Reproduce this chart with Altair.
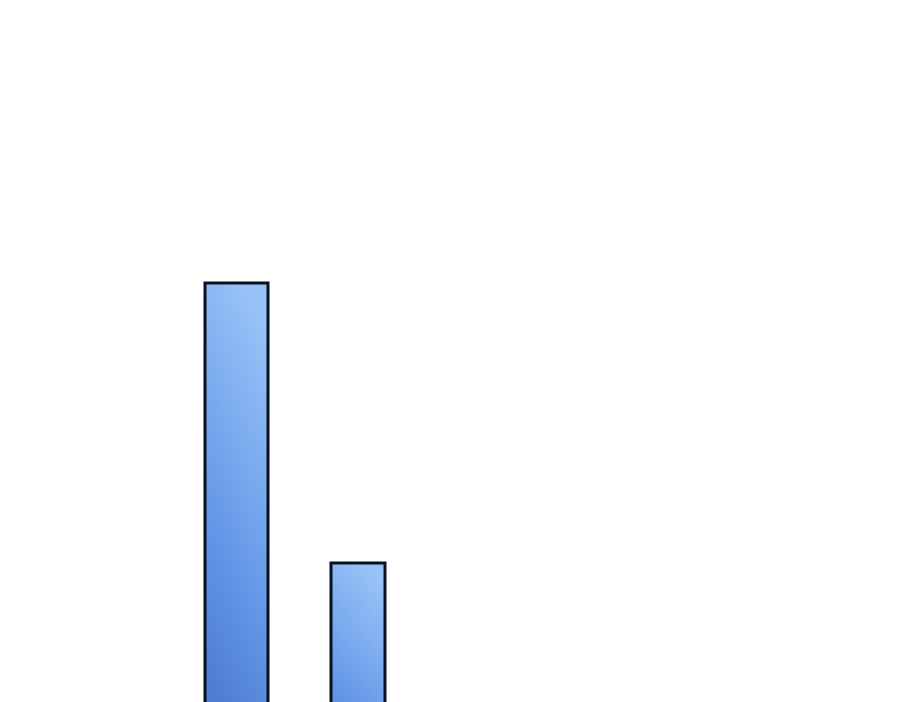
import altair as alt
import pandas as pd

categories = ["A", "B"]
values = [29, 15]

df = pd.DataFrame({"category": categories, "value": values})

grad = alt.LinearGradient(
    gradient="linear",
    x1=0.6, y1=0, x2=0.4, y2=1,
    stops=[
        alt.GradientStop(color="#98c3f8", offset=0),
        alt.GradientStop(color="#6396e6", offset=0.5),
        alt.GradientStop(color="#3c69bf", offset=1),
    ],
)

x_scale = alt.Scale(domain=categories, range=[167.75, 410.75], paddingInner=0, paddingOuter=0)
y_scale = alt.Scale(domain=[8.05, 42.75], nice=False, zero=False)

def bar(cat, w):
    return alt.Chart(df).transform_filter(alt.datum.category == cat).mark_bar(
        width=w, color=grad, stroke="#08111f", strokeWidth=3, clip=True
    ).encode(
        x=alt.X("category:N", scale=x_scale, axis=None),
        y=alt.Y("value:Q", scale=y_scale, axis=None),
        y2=alt.datum(0),
    )

chart = alt.layer(bar("A", 63), bar("B", 54)).properties(
    width=884, height=694, padding=0
).configure_view(stroke=None)

chart.save("out.html", embed_options={"renderer": "svg", "actions": False})
